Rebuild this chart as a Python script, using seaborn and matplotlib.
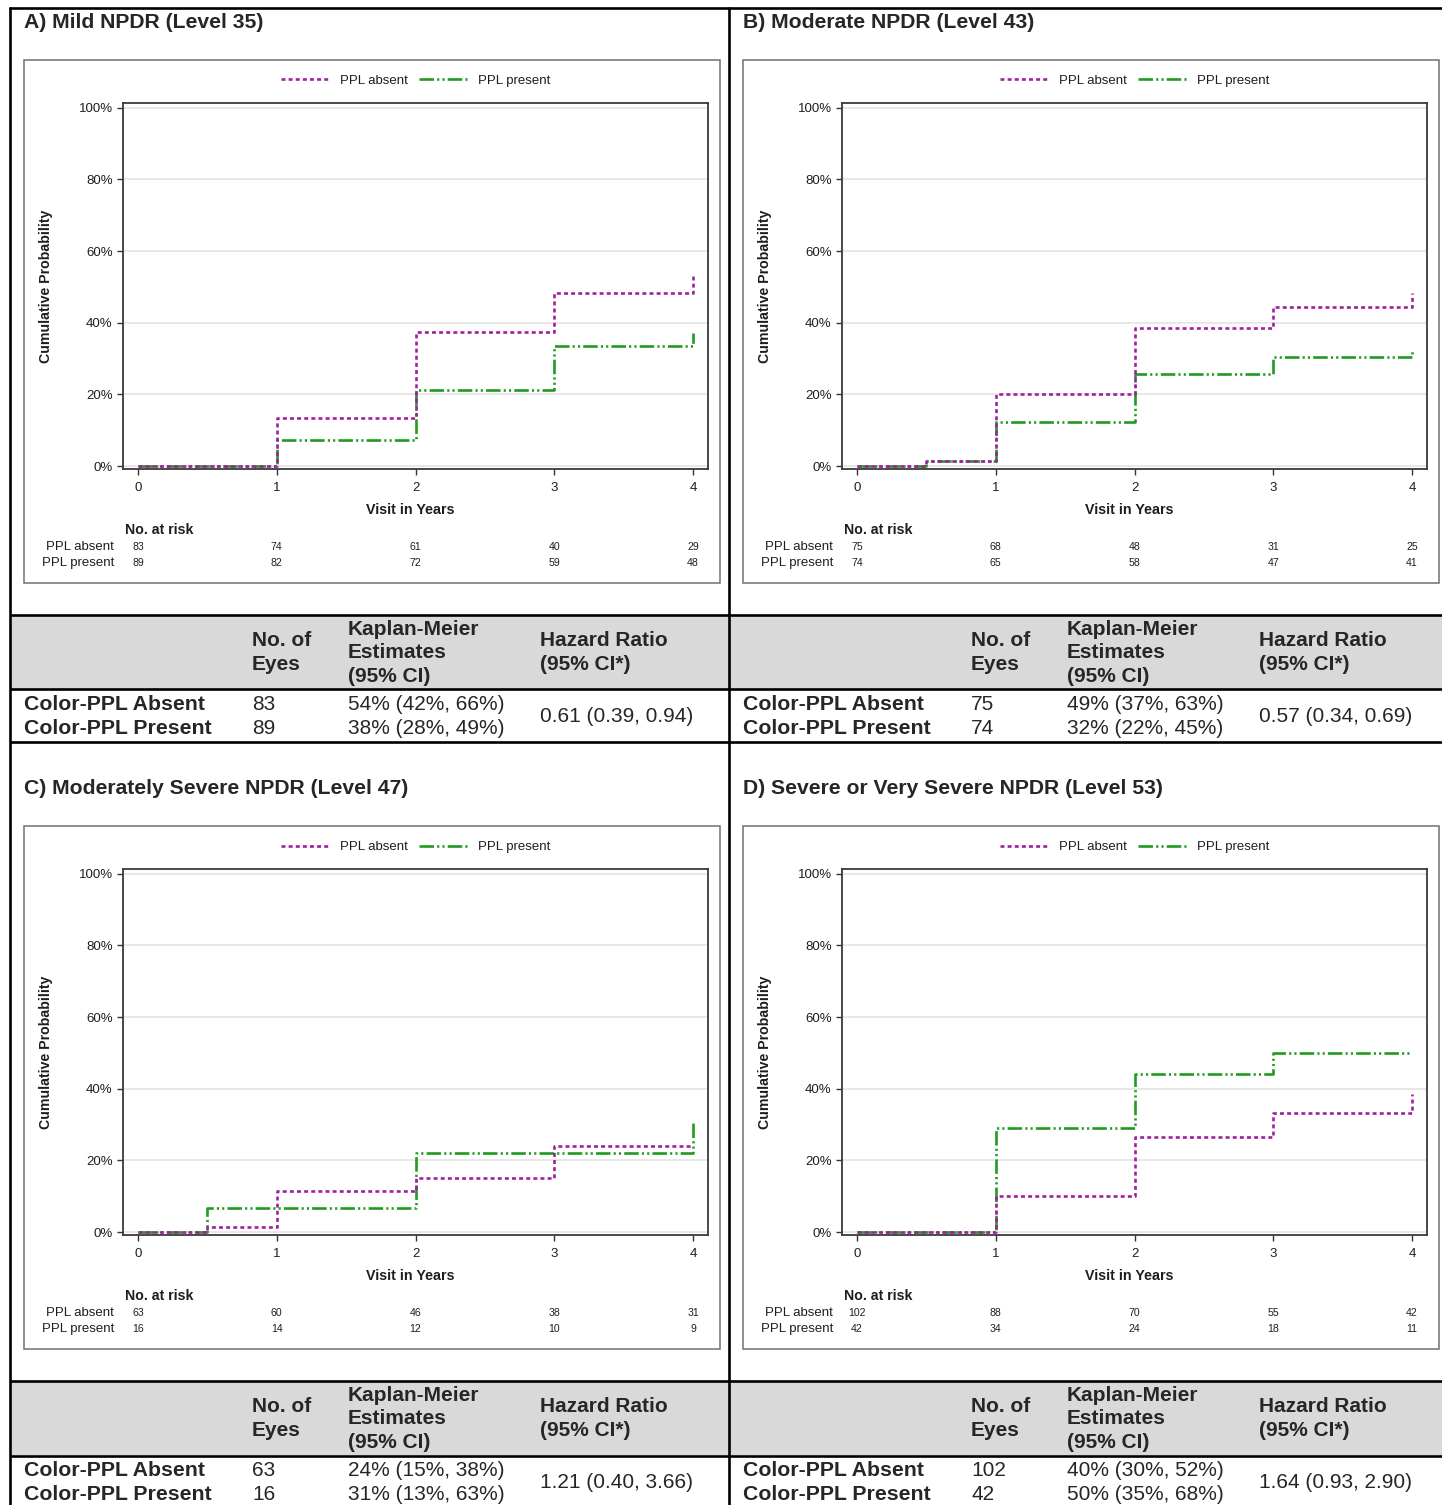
import numpy as np
import pandas as pd
import matplotlib
matplotlib.use("Agg")
import matplotlib.pyplot as plt
import seaborn as sns
from matplotlib import transforms
from matplotlib.patches import Rectangle

sns.set_style("white")
plt.rcParams["font.family"] = ["Liberation Sans", "DejaVu Sans"]

W, H = 1442, 1505

# ---------------- data ----------------
panel_titles = ["A) Mild NPDR (Level 35)", "B) Moderate NPDR (Level 43)",
                "C) Moderately Severe NPDR (Level 47)",
                "D) Severe or Very Severe NPDR (Level 53)"]
group_labels = ["PPL absent", "PPL present"]
x_ticks = [0, 1, 2, 3, 4]
y_ticks = [0, 20, 40, 60, 80, 100]

# cumulative probability (%) at step times
a_absent_t = [0, 1, 2, 3, 4]
a_absent_p = [0, 13.4, 37.4, 48.4, 53.4]
a_present_t = [0, 1, 2, 3, 4]
a_present_p = [0, 7.3, 21.3, 33.5, 37.0]
b_absent_t = [0, 0.5, 1, 2, 3, 4]
b_absent_p = [0, 1.4, 20.2, 38.5, 44.4, 48.4]
b_present_t = [0, 0.5, 1, 2, 3, 4]
b_present_p = [0, 1.4, 12.2, 25.6, 30.4, 32.3]
c_absent_t = [0, 0.5, 1, 2, 3, 4]
c_absent_p = [0, 1.4, 11.4, 15.2, 23.9, 23.9]
c_present_t = [0, 0.5, 1, 2, 3, 4]
c_present_p = [0, 6.6, 6.6, 22.1, 22.1, 30.6]
d_absent_t = [0, 1, 2, 3, 4]
d_absent_p = [0, 10.0, 26.6, 33.3, 38.5]
d_present_t = [0, 1, 2, 3, 4]
d_present_p = [0, 29.0, 44.0, 50.0, 50.0]

risk_absent = [[83, 74, 61, 40, 29], [75, 68, 48, 31, 25],
               [63, 60, 46, 38, 31], [102, 88, 70, 55, 42]]
risk_present = [[89, 82, 72, 59, 48], [74, 65, 58, 47, 41],
                [16, 14, 12, 10, 9], [42, 34, 24, 18, 11]]

row_names = ["Color-PPL Absent", "Color-PPL Present"]
eyes_absent = [83, 75, 63, 102]
eyes_present = [89, 74, 16, 42]
km_absent = ["54% (42%, 66%)", "49% (37%, 63%)", "24% (15%, 38%)", "40% (30%, 52%)"]
km_present = ["38% (28%, 49%)", "32% (22%, 45%)", "31% (13%, 63%)", "50% (35%, 68%)"]
hazard = ["0.61 (0.39, 0.94)", "0.57 (0.34, 0.69)", "1.21 (0.40, 3.66)", "1.64 (0.93, 2.90)"]
hdr_eyes = "No. of\nEyes"
hdr_km = "Kaplan-Meier\nEstimates\n(95% CI)"
hdr_hr = "Hazard Ratio\n(95% CI*)"

curves = [
    [(a_absent_t, a_absent_p), (a_present_t, a_present_p)],
    [(b_absent_t, b_absent_p), (b_present_t, b_present_p)],
    [(c_absent_t, c_absent_p), (c_present_t, c_present_p)],
    [(d_absent_t, d_absent_p), (d_present_t, d_present_p)],
]

# ---------------- styles ----------------
col_absent = "#A0209E"
col_present = "#229A22"
ls_absent = (0, (1.5, 1.2))
ls_present = (0, (5.5, 1.2, 0.8, 1.2, 0.8, 1.2))
line_lw = 1.9
small = 9.5
txtcol = "#1E1E1E"

fig = plt.figure(figsize=(W / 100, H / 100), dpi=100)
fig.patch.set_facecolor("white")

bg = fig.add_axes([0, 0, 1, 1])
bg.set_xlim(0, W)
bg.set_ylim(H, 0)
bg.axis("off")

offsets = [(0, 0), (719, 0), (0, 766), (719, 766)]

# table header shading and grid lines
for oy in (0, 766):
    bg.add_patch(Rectangle((10, 615 + oy), W - 10, 74, facecolor="#D9D9D9",
                           edgecolor="none", zorder=0))
lkw = dict(color="black", lw=1.9, solid_capstyle="butt", zorder=3)
bg.plot([9.5, 9.5], [7, H], **lkw)
bg.plot([729, 729], [7, H], **lkw)
bg.plot([8.5, W], [8, 8], **lkw)
for yy in (615, 689, 742, 1381, 1456):
    bg.plot([9.5, W], [yy, yy], **lkw)

for i, (ox, oy) in enumerate(offsets):
    # panel title
    bg.text(24 + ox, 22 + oy, panel_titles[i], fontsize=15.2, fontweight="bold",
            va="center", ha="left")
    # graph frame
    bg.add_patch(Rectangle((24 + ox, 60 + oy), 696, 523, fill=False,
                           edgecolor="#707070", lw=1.1, zorder=1))

    left, top, right, bottom = 123 + ox, 102.7 + oy, 708 + ox, 469.3 + oy
    ax = fig.add_axes([left / W, 1 - bottom / H, (right - left) / W, (bottom - top) / H])
    ax.set_facecolor("white")

    (ta, pa), (tp, pp) = curves[i]
    df_a = pd.DataFrame({"t": ta, "p": pa})
    df_p = pd.DataFrame({"t": tp, "p": pp})
    sns.lineplot(data=df_a, x="t", y="p", ax=ax, estimator=None, sort=False,
                 drawstyle="steps-post", color=col_absent, linestyle=ls_absent,
                 lw=line_lw, label=group_labels[0], zorder=4)
    sns.lineplot(data=df_p, x="t", y="p", ax=ax, estimator=None, sort=False,
                 drawstyle="steps-post", color=col_present, linestyle=ls_present,
                 lw=line_lw, label=group_labels[1], zorder=3)

    ax.set_xlim(-0.108, 4.108)
    ax.set_ylim(-0.9, 101.4)
    ax.set_xticks(x_ticks)
    ax.set_xticklabels([str(v) for v in x_ticks])
    ax.set_yticks(y_ticks)
    ax.set_yticklabels([f"{v}%" for v in y_ticks])
    ax.tick_params(axis="both", which="both", direction="out", length=4.5,
                   width=1, color="#333333", labelsize=small, labelcolor=txtcol,
                   pad=3, bottom=True, left=True, top=False, right=False)
    ax.tick_params(axis="x", pad=5)
    ax.yaxis.grid(True, color="#E6E6E6", lw=1.3)
    ax.xaxis.grid(False)
    ax.set_axisbelow(True)
    for sp in ax.spines.values():
        sp.set_visible(True)
        sp.set_color("#3A3A3A")
        sp.set_linewidth(1.3)

    ax.set_xlabel("Visit in Years", fontsize=10.3, fontweight="bold", color=txtcol)
    ax.xaxis.set_label_coords(0.4905, -(503 - 469.3) / (bottom - top))
    ax.set_ylabel("Cumulative Probability", fontsize=10.2, fontweight="bold",
                  color=txtcol)
    ax.yaxis.set_label_coords(-(123 - 53) / (right - left), 0.5)

    leg = ax.legend(loc="center", bbox_to_anchor=(0.5, 1 + (102.7 - 81) / (bottom - top)),
                    ncol=2, frameon=False, fontsize=small, handlelength=3.7,
                    handletextpad=0.75, columnspacing=0.85, borderaxespad=0)
    for t in leg.get_texts():
        t.set_color(txtcol)

    # number at risk
    bg.text(125 + ox, 530 + oy, "No. at risk", fontsize=10.2, fontweight="bold",
            va="center", ha="left", color=txtcol)
    bg.text(114 + ox, 547 + oy, group_labels[0], fontsize=small, va="center",
            ha="right", color=txtcol)
    bg.text(114 + ox, 563 + oy, group_labels[1], fontsize=small, va="center",
            ha="right", color=txtcol)
    trans = transforms.blended_transform_factory(ax.transData, bg.transData)
    for xv, na, npr in zip(x_ticks, risk_absent[i], risk_present[i]):
        ax.text(xv, 547 + oy, str(na), transform=trans, fontsize=7.6, ha="center",
                va="center", color=txtcol, clip_on=False)
        ax.text(xv, 563 + oy, str(npr), transform=trans, fontsize=7.6, ha="center",
                va="center", color=txtcol, clip_on=False)

    # summary table
    tx = 24 + ox
    bg.text(252 + ox, 652.5 + oy, hdr_eyes, fontsize=15, fontweight="bold",
            va="center", ha="left", linespacing=1.3)
    bg.text(348 + ox, 653 + oy, hdr_km, fontsize=15, fontweight="bold",
            va="center", ha="left", linespacing=1.3)
    bg.text(540 + ox, 652.5 + oy, hdr_hr, fontsize=15, fontweight="bold",
            va="center", ha="left", linespacing=1.3)
    for r, yy in enumerate((704, 729)):
        bg.text(tx, yy + oy, row_names[r], fontsize=15.3, fontweight="bold",
                va="center", ha="left")
        eyes = eyes_absent[i] if r == 0 else eyes_present[i]
        km = km_absent[i] if r == 0 else km_present[i]
        bg.text(252 + ox, yy + oy, str(eyes), fontsize=15, va="center", ha="left")
        bg.text(348 + ox, yy + oy, km, fontsize=15, va="center", ha="left")
    bg.text(540 + ox, 717 + oy, hazard[i], fontsize=15, va="center", ha="left")

fig.savefig("out.png", dpi=100, facecolor="white")
